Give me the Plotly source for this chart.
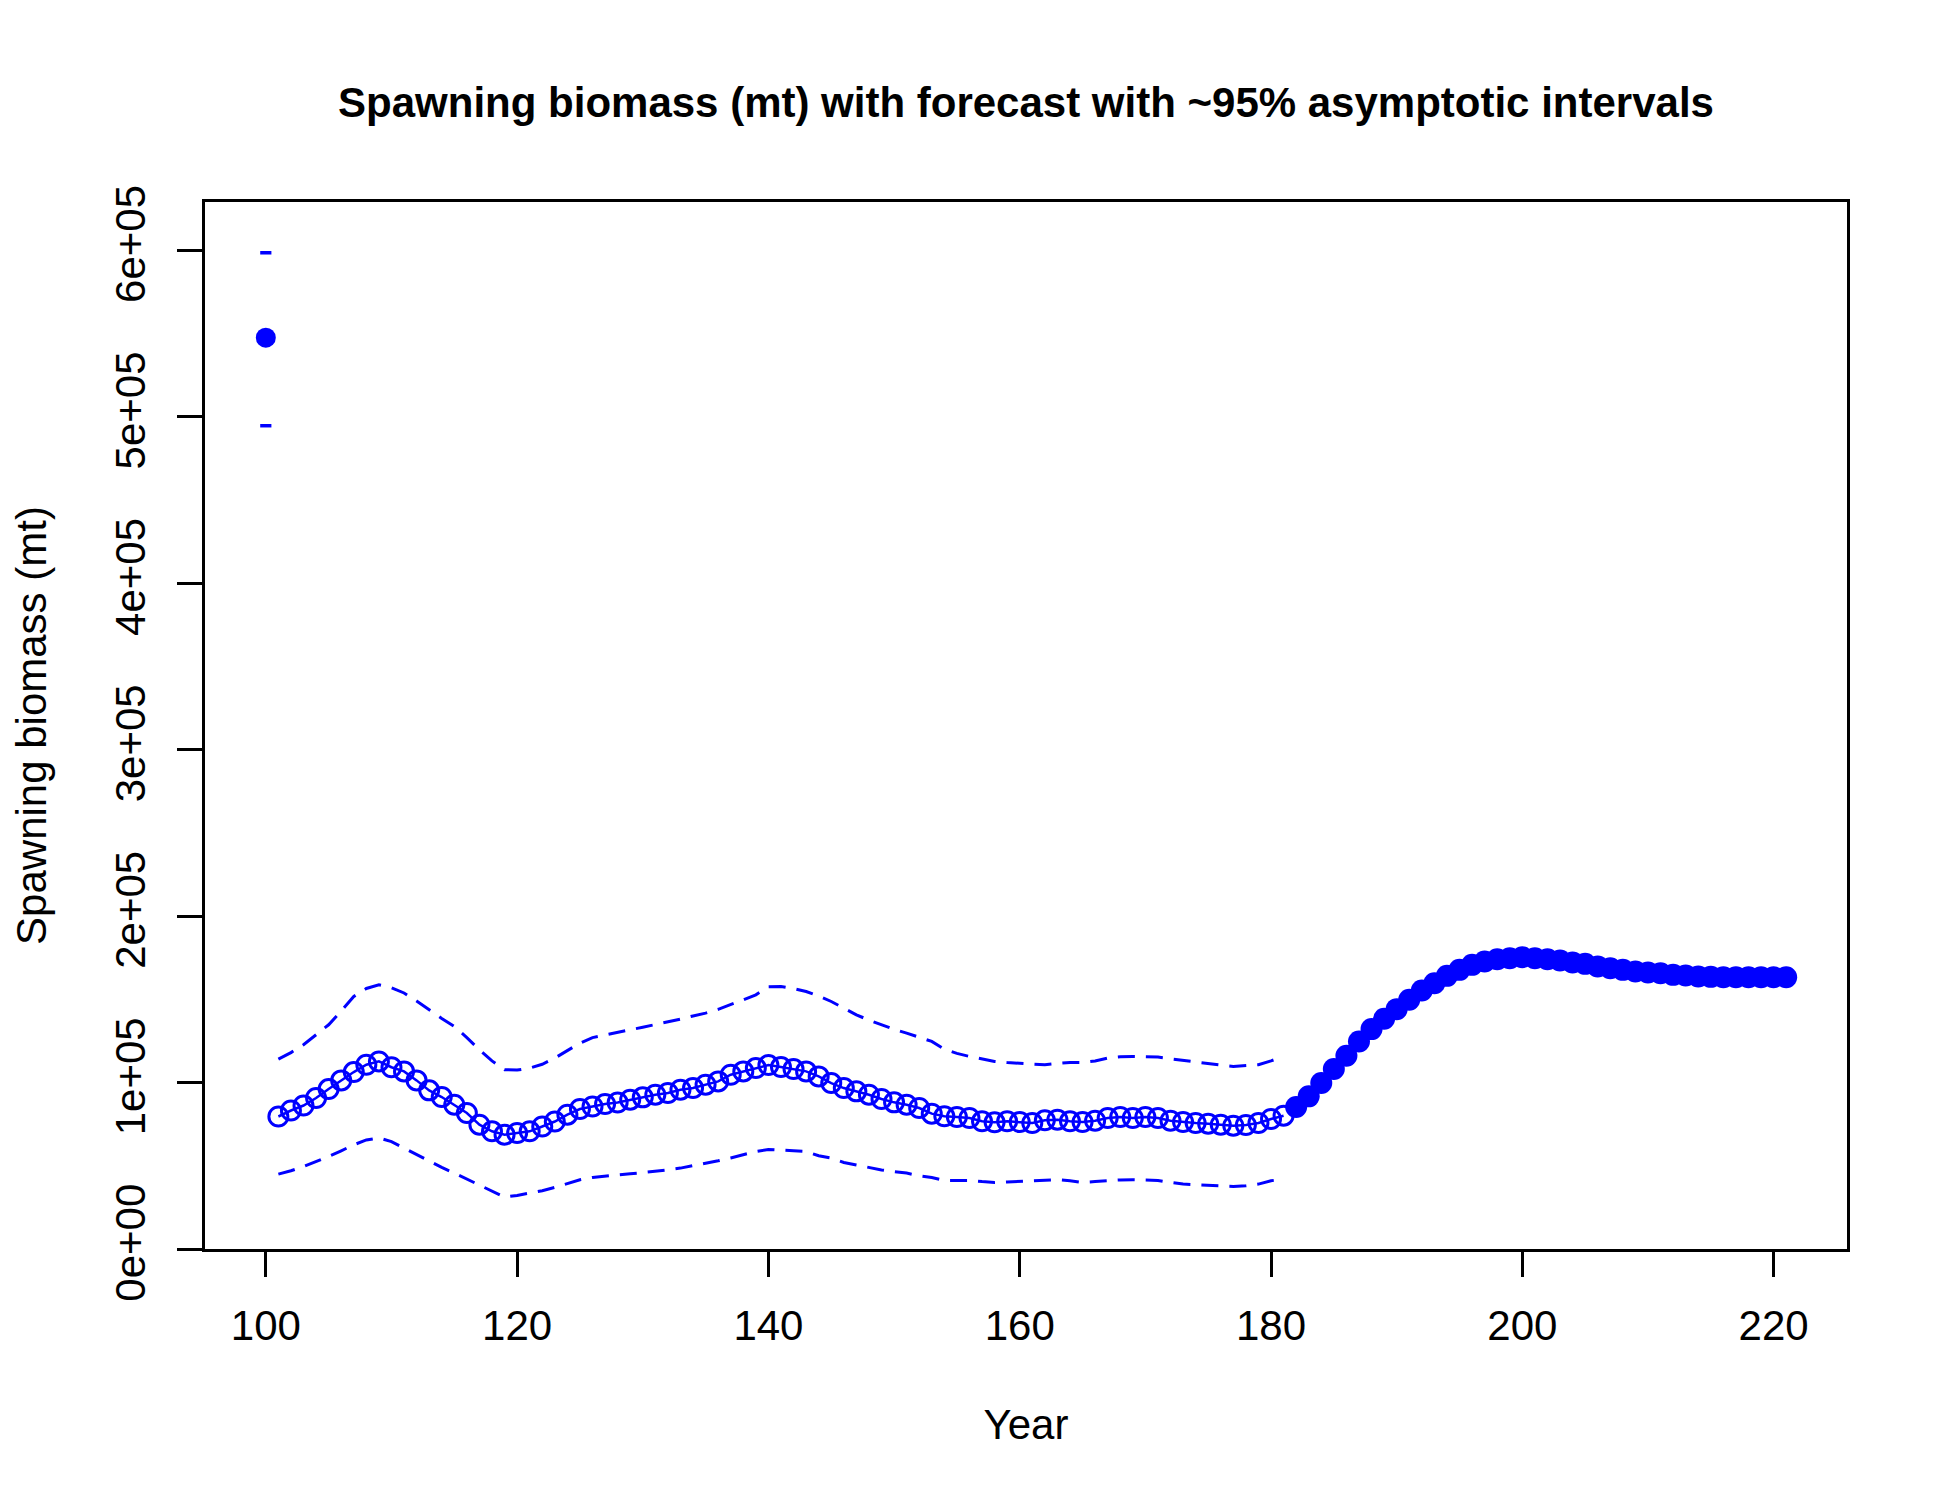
import plotly.graph_objects as go

# spawning biomass, values in units of 1e5 mt
virgin_year = [100]
virgin_sb = [5.475]
virgin_upper = [5.985]
virgin_lower = [4.946]

years_hist = list(range(101, 182))
sb_hist = [0.796, 0.832, 0.862, 0.907, 0.961, 1.013, 1.063, 1.107, 1.127, 1.092,
           1.067, 1.013, 0.953, 0.913, 0.867, 0.817, 0.747, 0.707, 0.687, 0.697,
           0.707, 0.736, 0.766, 0.807, 0.841, 0.856, 0.871, 0.880, 0.897, 0.911,
           0.927, 0.937, 0.957, 0.967, 0.987, 1.007, 1.047, 1.067, 1.087, 1.105,
           1.093, 1.081, 1.067, 1.037, 0.997, 0.967, 0.947, 0.927, 0.901, 0.881,
           0.867, 0.847, 0.813, 0.797, 0.793, 0.787, 0.767, 0.761, 0.767, 0.763,
           0.757, 0.773, 0.777, 0.767, 0.763, 0.771, 0.787, 0.793, 0.787, 0.793,
           0.787, 0.771, 0.763, 0.757, 0.753, 0.747, 0.741, 0.745, 0.757, 0.781,
           0.801]
sb_upper = [1.141, 1.180, 1.227, 1.285, 1.347, 1.430, 1.517, 1.565, 1.587, 1.570,
            1.538, 1.490, 1.437, 1.385, 1.337, 1.270, 1.197, 1.130, 1.077, 1.075,
            1.087, 1.110, 1.147, 1.190, 1.237, 1.270, 1.287, 1.300, 1.317, 1.332,
            1.347, 1.365, 1.381, 1.400, 1.417, 1.440, 1.467, 1.497, 1.527, 1.575,
            1.577, 1.565, 1.547, 1.520, 1.487, 1.447, 1.407, 1.375, 1.347, 1.320,
            1.297, 1.270, 1.247, 1.200, 1.175, 1.157, 1.140, 1.127, 1.120, 1.117,
            1.112, 1.107, 1.115, 1.121, 1.121, 1.130, 1.147, 1.155, 1.157, 1.155,
            1.153, 1.143, 1.133, 1.122, 1.115, 1.105, 1.097, 1.100, 1.107, 1.130,
            1.157]
sb_lower = [0.450, 0.470, 0.496, 0.525, 0.556, 0.590, 0.626, 0.655, 0.667, 0.645,
            0.607, 0.565, 0.526, 0.490, 0.456, 0.420, 0.386, 0.345, 0.312, 0.322,
            0.336, 0.350, 0.370, 0.395, 0.416, 0.430, 0.436, 0.444, 0.452, 0.459,
            0.466, 0.476, 0.486, 0.500, 0.516, 0.530, 0.547, 0.566, 0.586, 0.598,
            0.596, 0.590, 0.586, 0.560, 0.546, 0.520, 0.505, 0.490, 0.475, 0.465,
            0.456, 0.440, 0.430, 0.412, 0.410, 0.412, 0.405, 0.400, 0.403, 0.406,
            0.406, 0.410, 0.416, 0.410, 0.400, 0.405, 0.412, 0.415, 0.416, 0.414,
            0.412, 0.400, 0.390, 0.386, 0.383, 0.378, 0.376, 0.380, 0.390, 0.410,
            0.420]

years_fore = list(range(182, 222))
sb_fore = [0.853, 0.917, 0.997, 1.081, 1.161, 1.247, 1.321, 1.383, 1.441, 1.497,
           1.553, 1.597, 1.641, 1.677, 1.707, 1.727, 1.741, 1.747, 1.753, 1.747,
           1.741, 1.733, 1.721, 1.713, 1.697, 1.687, 1.677, 1.667, 1.661, 1.657,
           1.647, 1.643, 1.637, 1.635, 1.633, 1.633, 1.633, 1.633, 1.633, 1.633]

y_ticks = [0, 1e5, 2e5, 3e5, 4e5, 5e5, 6e5]
y_ticklabels = ["0e+00", "1e+05", "2e+05", "3e+05", "4e+05", "5e+05", "6e+05"]
x_ticks = [100, 120, 140, 160, 180, 200, 220]

scale = 1e5
blue = "#0000FF"
font = "Liberation Sans, Arial, sans-serif"

fig = go.Figure()

# interval lines
fig.add_trace(go.Scatter(x=years_hist, y=[v * scale for v in sb_upper], mode="lines",
                         line=dict(color=blue, width=3, dash="17px,11px")))
fig.add_trace(go.Scatter(x=years_hist, y=[v * scale for v in sb_lower], mode="lines",
                         line=dict(color=blue, width=3, dash="17px,11px")))

# virgin biomass point with its interval ends
fig.add_trace(go.Scatter(x=virgin_year, y=[v * scale for v in virgin_sb], mode="markers",
                         marker=dict(color=blue, size=20, symbol="circle")))
fig.add_trace(go.Scatter(x=virgin_year * 2, y=[virgin_upper[0] * scale, virgin_lower[0] * scale],
                         mode="markers",
                         marker=dict(symbol="line-ew", size=8, line=dict(color=blue, width=3.5))))

# estimated years
fig.add_trace(go.Scatter(x=years_hist, y=[v * scale for v in sb_hist], mode="lines+markers",
                         line=dict(color=blue, width=2.5),
                         marker=dict(symbol="circle-open", size=19, color=blue,
                                     line=dict(color=blue, width=3))))

# forecast
fig.add_trace(go.Scatter(x=years_fore, y=[v * scale for v in sb_fore], mode="lines+markers",
                         line=dict(color=blue, width=2.5),
                         marker=dict(symbol="circle", size=22, color=blue)))

fig.update_layout(
    width=1950, height=1500,
    plot_bgcolor="white", paper_bgcolor="white",
    showlegend=False,
    margin=dict(l=193, r=111, t=194, b=259),
    font=dict(family=font, size=42, color="black"),
    title=dict(text="<b>Spawning biomass (mt) with forecast with ~95% asymptotic intervals</b>",
               x=0.5, xref="paper", xanchor="center", y=1 - 94 / 1500, yanchor="middle",
               font=dict(family=font, size=42, color="black")),
)
fig.update_xaxes(range=[95.16, 225.84], tickvals=x_ticks, ticks="outside", ticklen=25,
                 tickwidth=3, tickcolor="black", showline=True, linewidth=3, linecolor="black",
                 mirror=True, showgrid=False, zeroline=False, ticklabelstandoff=13,
                 title=dict(text="Year", standoff=62, font=dict(size=42)))
fig.update_yaxes(range=[0, 6.29e5], tickvals=y_ticks, ticktext=y_ticklabels, tickangle=-90,
                 ticks="outside", ticklen=25, tickwidth=3, tickcolor="black",
                 showline=True, linewidth=3, linecolor="black", mirror=True,
                 showgrid=False, zeroline=False, ticklabelstandoff=15,
                 title=dict(text="Spawning biomass (mt)", standoff=58, font=dict(size=42)))

fig.write_html("out.html")
